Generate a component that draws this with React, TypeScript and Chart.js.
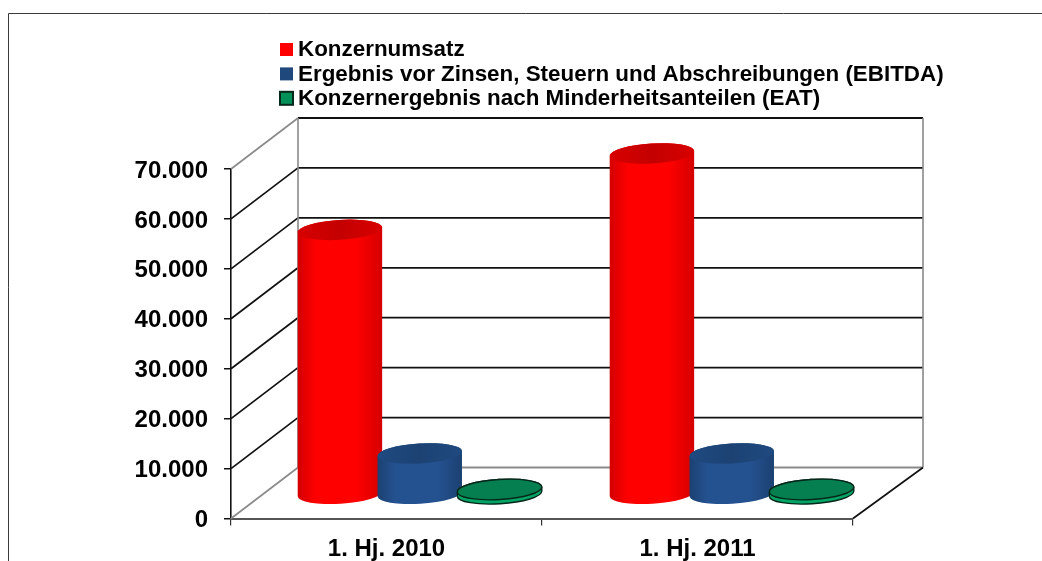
import React, { useEffect, useRef } from "react";
import { Chart, registerables } from "chart.js";

Chart.register(...registerables);

const categories = ["1. Hj. 2010", "1. Hj. 2011"];
const seriesNames = [
  "Konzernumsatz",
  "Ergebnis vor Zinsen, Steuern und Abschreibungen (EBITDA)",
  "Konzernergebnis nach Minderheitsanteilen (EAT)",
];
const umsatz = [53000, 68300];
const ebitda = [8200, 8200];
const eat = [1000, 1000];

const FONT = '"Liberation Sans", Arial, sans-serif';

const looks = [
  { swatch: "#ff0000", edge: "#d40000", mid: "#ff0000", top: "#c40000", topEdge: "#d80000", line: "" },
  { swatch: "#1f497d", edge: "#1c4172", mid: "#245291", top: "#1c4273", topEdge: "#1f4a80", line: "" },
  { swatch: "#009058", edge: "#00a565", mid: "#00a565", top: "#057f50", topEdge: "#057f50", line: "#06281a" },
];

// depth of the 3D box, in pixels
const DX_L = 67;
const DX_R = 70;
const DY = -51;
const TILT = (-3.5 * Math.PI) / 180;

const boxPlugin = {
  id: "box",
  beforeDatasetsDraw(chart: any) {
    const { ctx, chartArea: a, scales } = chart;
    const y = scales.y;
    const xBackL = a.left + DX_L;
    const xBackR = a.right + DX_R;
    ctx.save();
    // page frame
    ctx.strokeStyle = "#3a3a3a";
    ctx.lineWidth = 1;
    ctx.beginPath();
    ctx.moveTo(1042, 13.5);
    ctx.lineTo(8.5, 13.5);
    ctx.lineTo(8.5, 561);
    ctx.stroke();
    // wall lines per tick
    y.ticks.forEach((t: any, i: number) => {
      const py = y.getPixelForValue(t.value);
      const edge = i === 0 || i === y.ticks.length - 1;
      ctx.strokeStyle = edge ? "#8a8a8a" : "#111";
      ctx.lineWidth = 1.7;
      ctx.beginPath();
      ctx.moveTo(a.left, py);
      ctx.lineTo(xBackL, py + DY);
      ctx.stroke();
      ctx.strokeStyle = i === 0 ? "#8a8a8a" : "#111";
      ctx.lineWidth = edge ? 2 : 1.8;
      ctx.beginPath();
      ctx.moveTo(xBackL, py + DY);
      ctx.lineTo(xBackR, py + DY);
      ctx.stroke();
    });
    const y0 = y.getPixelForValue(0);
    const yTop = y.getPixelForValue(70000);
    ctx.strokeStyle = "#8a8a8a";
    ctx.lineWidth = 1.6;
    ctx.beginPath();
    ctx.moveTo(xBackL, yTop + DY);
    ctx.lineTo(xBackL, y0 + DY);
    ctx.moveTo(xBackR, yTop + DY);
    ctx.lineTo(xBackR, y0 + DY);
    ctx.stroke();
    ctx.strokeStyle = "#111";
    ctx.lineWidth = 1.7;
    ctx.beginPath();
    ctx.moveTo(a.right, y0);
    ctx.lineTo(xBackR, y0 + DY);
    ctx.stroke();
    ctx.restore();
  },
  afterDatasetsDraw(chart: any) {
    const { ctx } = chart;
    const ry = 10;
    chart.data.datasets.forEach((_: any, di: number) => {
      const look = looks[di];
      chart.getDatasetMeta(di).data.forEach((bar: any, bi: number) => {
        const p = bar.getProps(["x", "y", "base", "width"], true);
        const cx = p.x + (DX_L + DX_R) / 4 - 1 + bi;
        const yt = p.y + DY / 2 + 1.5;
        const yb = p.base + DY / 2 + 1.5;
        const rx = p.width * 0.53;
        const g = ctx.createLinearGradient(cx - rx, 0, cx + rx, 0);
        g.addColorStop(0, look.edge);
        g.addColorStop(0.22, look.mid);
        g.addColorStop(0.7, look.mid);
        g.addColorStop(1, look.edge);
        ctx.save();
        ctx.beginPath();
        ctx.ellipse(cx, yb, rx, ry, TILT, 0, Math.PI);
        ctx.lineTo(cx - rx * Math.cos(TILT), yt - rx * Math.sin(TILT));
        ctx.ellipse(cx, yt, rx, ry, TILT, Math.PI, 2 * Math.PI);
        ctx.closePath();
        ctx.fillStyle = g;
        ctx.fill();
        if (look.line) {
          ctx.strokeStyle = look.line;
          ctx.lineWidth = 1.4;
          ctx.stroke();
        }
        const gt = ctx.createLinearGradient(cx - rx, 0, cx + rx, 0);
        gt.addColorStop(0, look.topEdge);
        gt.addColorStop(0.5, look.top);
        gt.addColorStop(1, look.topEdge);
        ctx.beginPath();
        ctx.ellipse(cx, yt, rx, ry, TILT, 0, 2 * Math.PI);
        ctx.fillStyle = gt;
        ctx.fill();
        if (look.line) ctx.stroke();
        ctx.restore();
      });
    });
  },
  afterDraw(chart: any) {
    const { ctx } = chart;
    ctx.save();
    ctx.font = `bold 22.4px ${FONT}`;
    ctx.textBaseline = "middle";
    ctx.fillStyle = "#000";
    chart.data.datasets.forEach((d: any, i: number) => {
      const cy = 49.5 + i * 24.4;
      ctx.fillStyle = looks[i].swatch;
      ctx.fillRect(280, cy - 6.5, 13, 13);
      if (looks[i].line) {
        ctx.strokeStyle = "#06281a";
        ctx.lineWidth = 2;
        ctx.strokeRect(280, cy - 6.5, 13, 13);
      }
      ctx.fillStyle = "#000";
      ctx.fillText(d.label, 298, cy + 0.5);
    });
    ctx.restore();
  },
};

export default function App() {
  const ref = useRef<HTMLCanvasElement | null>(null);
  useEffect(() => {
    const tickFont = { family: FONT, size: 24, weight: "bold" as const };
    const chart = new Chart(ref.current!, {
      type: "bar",
      data: {
        labels: categories,
        datasets: [umsatz, ebitda, eat].map((data, i) => ({
          label: seriesNames[i],
          data,
          backgroundColor: "transparent",
          borderWidth: 0,
          barPercentage: 1,
          categoryPercentage: 0.77,
        })),
      },
      options: {
        animation: false,
        responsive: false,
        layout: { padding: { top: 169, right: 189, left: 0, bottom: 0 } },
        plugins: { legend: { display: false }, tooltip: { enabled: false } },
        scales: {
          y: {
            min: 0,
            max: 70000,
            afterFit: (s: any) => {
              s.width = 231;
            },
            ticks: {
              stepSize: 10000,
              color: "#000",
              font: tickFont,
              padding: 16,
              labelOffset: 2,
              callback: (v: any) => String(v).replace(/\B(?=(\d{3})+$)/g, "."),
            },
            grid: { drawOnChartArea: false, tickLength: 7, color: "#111", lineWidth: 1.5 },
            border: { color: "#111", width: 1.6 },
          },
          x: {
            afterFit: (s: any) => {
              s.height = 42.5;
            },
            ticks: { color: "#000", font: tickFont, padding: 9.5, maxRotation: 0 },
            grid: { drawOnChartArea: false, tickLength: 7, color: "#333", lineWidth: 1.2 },
            border: { color: "#555", width: 2 },
          },
        },
      },
      plugins: [boxPlugin],
    });
    return () => chart.destroy();
  }, []);
  return (
    <div style={{ position: "fixed", left: 0, top: 0, width: 1042, height: 561, background: "#fff", overflow: "hidden" }}>
      <canvas ref={ref} width={1042} height={561} style={{ display: "block" }} />
    </div>
  );
}
